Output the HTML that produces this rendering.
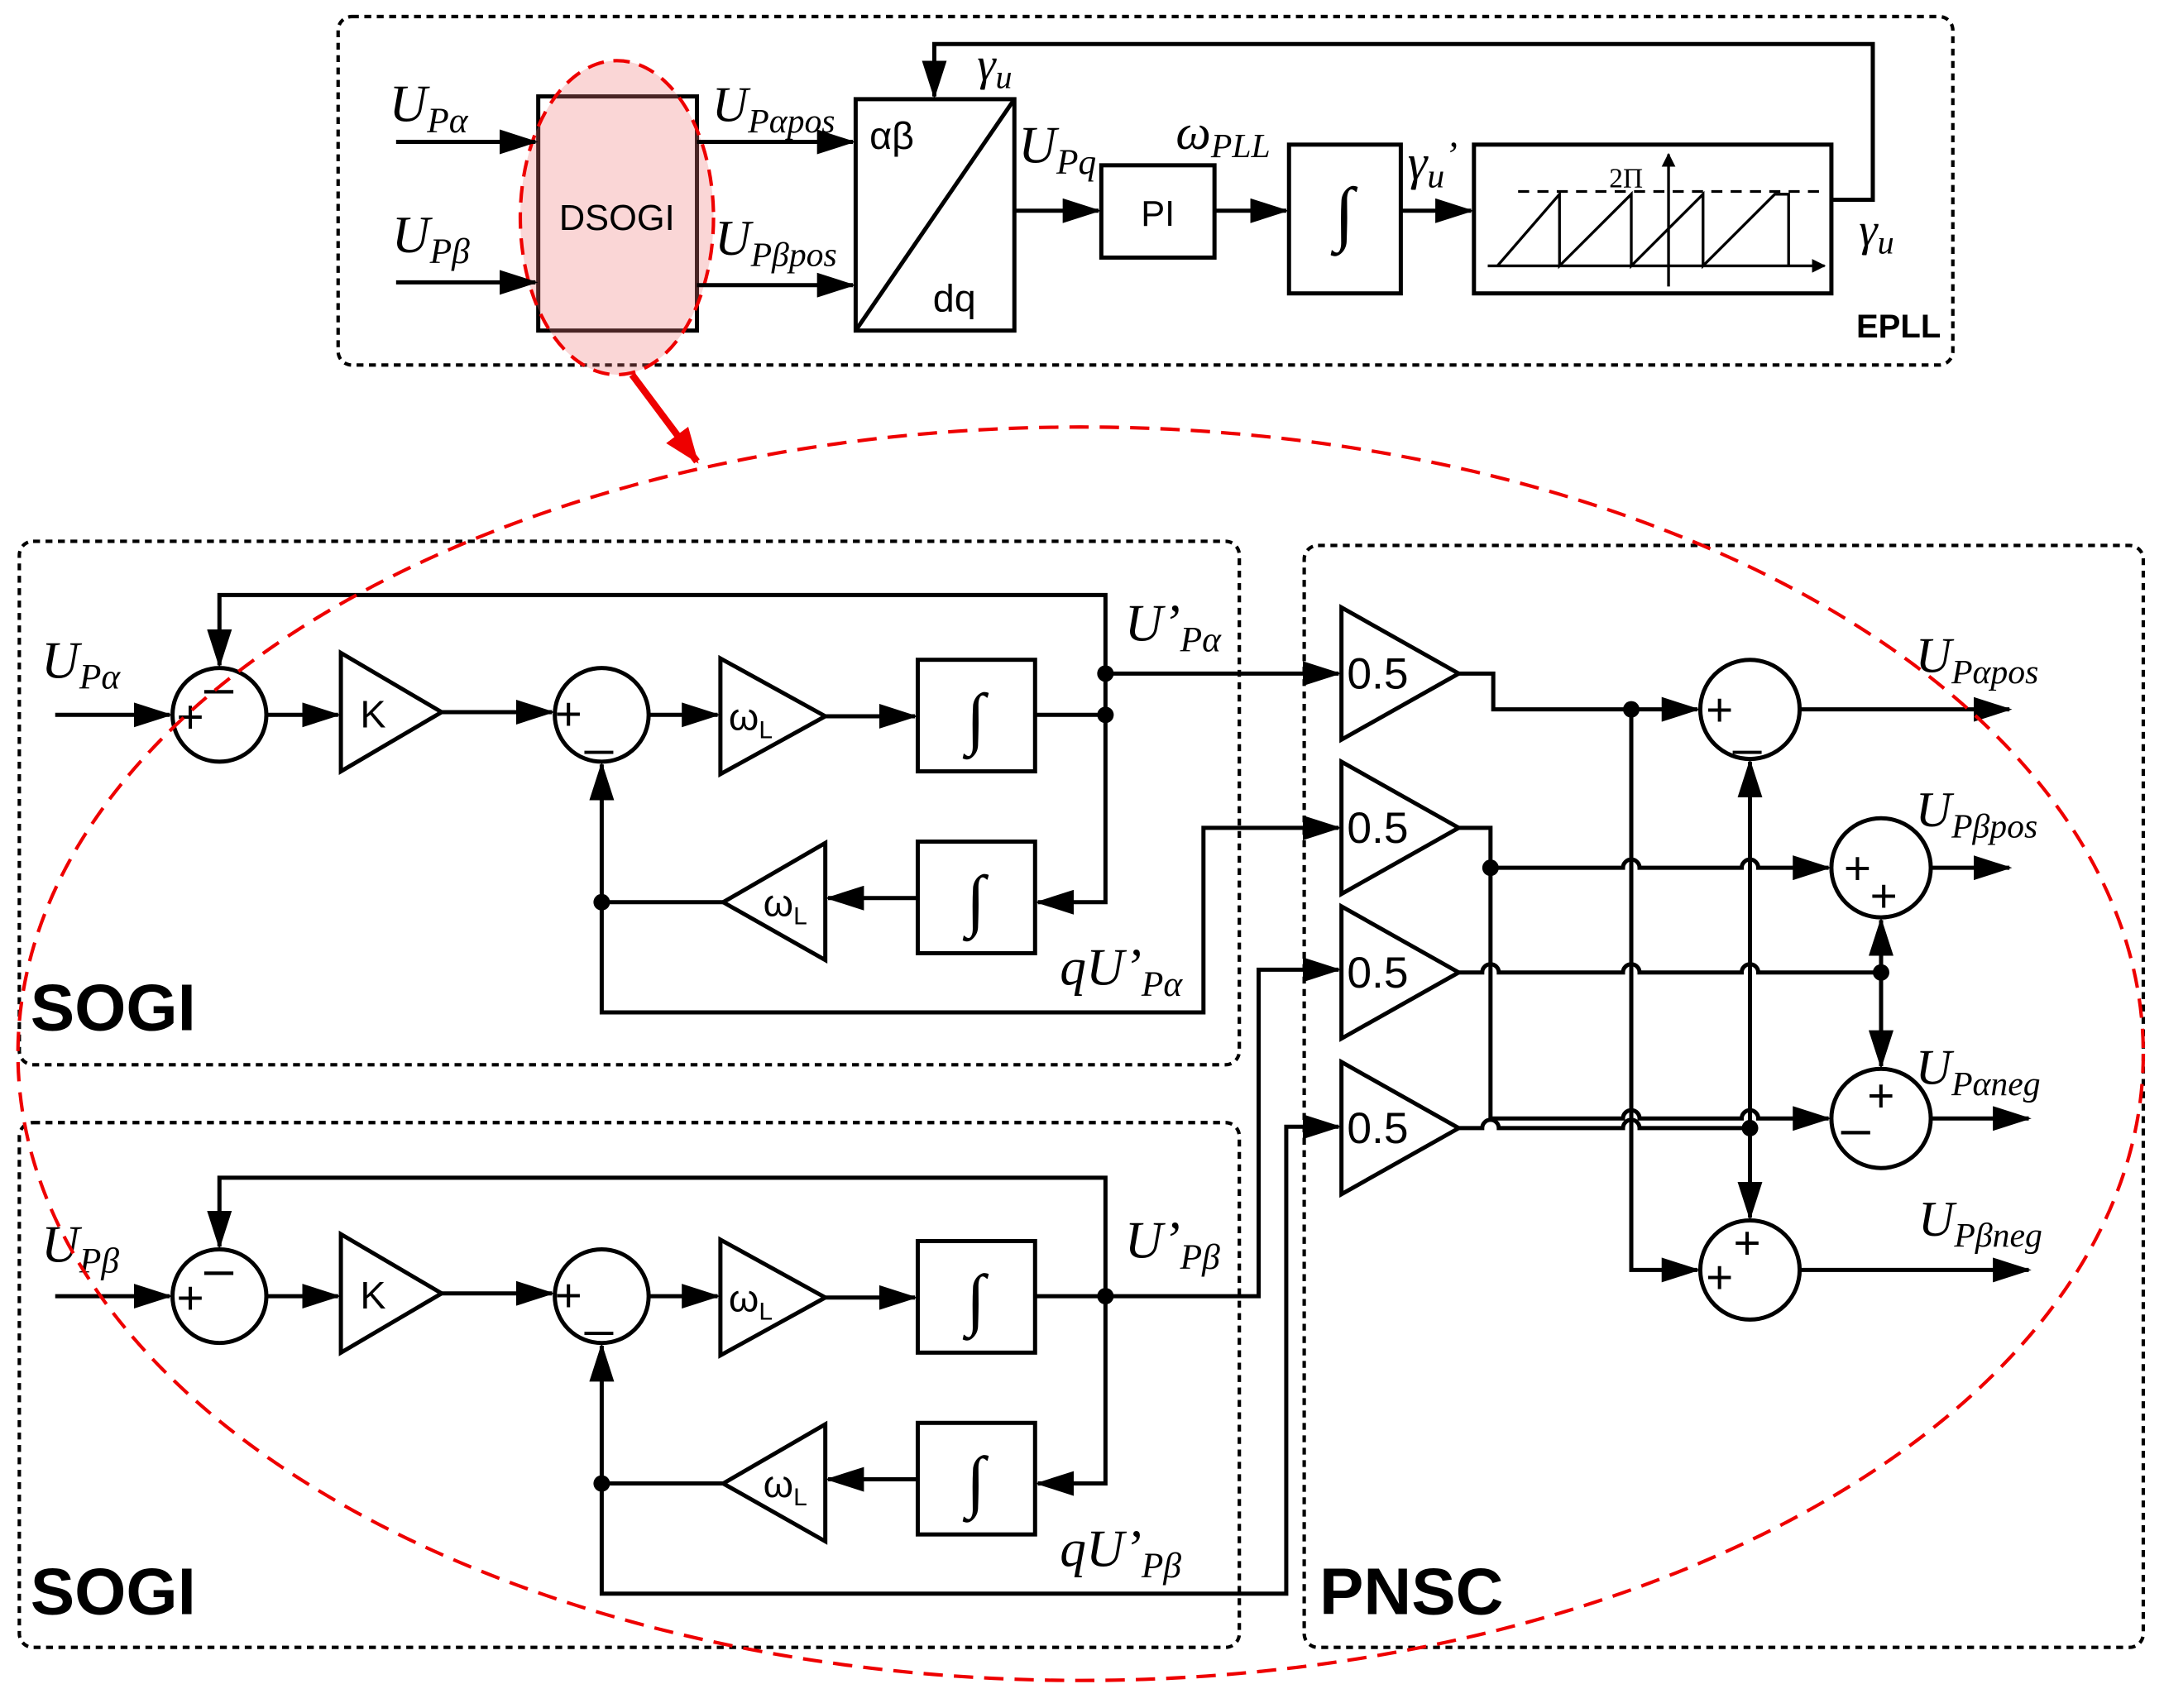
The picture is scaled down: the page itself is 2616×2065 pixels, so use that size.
<!DOCTYPE html>
<html><head><meta charset="utf-8">
<style>
html,body{margin:0;padding:0;background:#fff;}
svg{display:block;}
.l{stroke:#000;stroke-width:3;fill:none;}
.b{stroke:#000;stroke-width:3;fill:#fff;}
.d{stroke:#000;stroke-width:2.5;fill:none;stroke-dasharray:5 4;}
.it{font-family:"Liberation Serif",serif;font-style:italic;}
.sa{font-family:"Liberation Sans",sans-serif;}
</style></head><body>
<svg width="2616" height="2065" viewBox="0 0 1568 1240" preserveAspectRatio="none" xmlns="http://www.w3.org/2000/svg">
<defs>
<marker id="a" markerWidth="10" markerHeight="10" refX="9" refY="5" orient="auto" markerUnits="userSpaceOnUse" viewBox="0 0 10 10">
<path d="M0,0 L10,5 L0,10 z" fill="#000"/></marker>
<marker id="a2" markerWidth="28" markerHeight="18" refX="26" refY="9" orient="auto" markerUnits="userSpaceOnUse" viewBox="0 0 28 18">
<path d="M0,0 L28,9 L0,18 z" fill="#000"/></marker>
<marker id="ar" markerWidth="26" markerHeight="20" refX="24" refY="10" orient="auto" markerUnits="userSpaceOnUse" viewBox="0 0 26 20">
<path d="M0,0 L26,10 L0,20 z" fill="#e00"/></marker>
</defs>
<rect width="1568" height="1240" fill="#fff"/>

<!-- EPLL -->
<rect x="245" y="12" width="1170" height="253" rx="10" class="d"/>
<text x="1345" y="245" class="sa" font-size="24" font-weight="bold">EPLL</text>
<rect x="390" y="70" width="115" height="170" class="b"/>
<ellipse cx="447" cy="158" rx="70" ry="114" fill="rgba(240,120,120,0.3)" stroke="#e00" stroke-width="2.5" stroke-dasharray="12 7"/>
<text x="447" y="167" class="sa" font-size="26" text-anchor="middle">DSOGI</text>
<line x1="287" y1="103" x2="388" y2="103" class="l" marker-end="url(#a2)"/>
<line x1="287" y1="205" x2="388" y2="205" class="l" marker-end="url(#a2)"/>
<text x="282" y="88" class="it" font-size="38">U<tspan font-size="26" dy="8">Pα</tspan></text>
<text x="284" y="183" class="it" font-size="38">U<tspan font-size="26" dy="8">Pβ</tspan></text>
<line x1="505" y1="103" x2="618" y2="103" class="l" marker-end="url(#a2)"/>
<line x1="505" y1="207" x2="618" y2="207" class="l" marker-end="url(#a2)"/>
<text x="516" y="88" class="it" font-size="36">U<tspan font-size="25" dy="8">Pαpos</tspan></text>
<text x="518" y="185" class="it" font-size="36">U<tspan font-size="25" dy="8">Pβpos</tspan></text>
<rect x="620" y="72" width="115" height="168" class="b"/>
<line x1="620" y1="240" x2="735" y2="72" class="l"/>
<text x="630" y="108" class="sa" font-size="28">αβ</text>
<text x="676" y="226" class="sa" font-size="28">dq</text>
<line x1="735" y1="153" x2="796" y2="153" class="l" marker-end="url(#a2)"/>
<text x="738" y="118" class="it" font-size="38">U<tspan font-size="26" dy="8">Pq</tspan></text>
<rect x="798" y="120" width="82" height="67" class="b"/>
<text x="839" y="164" class="sa" font-size="26" text-anchor="middle">PI</text>
<line x1="880" y1="153" x2="932" y2="153" class="l" marker-end="url(#a2)"/>
<text x="852" y="108" class="it" font-size="36">ω<tspan font-size="25" dy="6">PLL</tspan></text>
<rect x="934" y="105" width="81" height="108" class="b"/>
<text x="974" y="172" class="it" font-size="52" text-anchor="middle">∫</text>
<line x1="1015" y1="153" x2="1066" y2="153" class="l" marker-end="url(#a2)"/>
<text x="1020" y="130" class="it" font-size="36">γ<tspan font-size="25" dy="6">u</tspan><tspan dy="-14" font-size="28">’</tspan></text>
<rect x="1068" y="105" width="259" height="108" class="b"/>
<line x1="1078" y1="193" x2="1322" y2="193" stroke="#000" stroke-width="2" marker-end="url(#a)"/>
<line x1="1209" y1="208" x2="1209" y2="112" stroke="#000" stroke-width="2" marker-end="url(#a)"/>
<line x1="1100" y1="139" x2="1318" y2="139" stroke="#000" stroke-width="2" stroke-dasharray="8 6"/>
<path d="M1085,193 L1130,141 L1130,193 L1182,141 L1182,193 L1234,141 L1234,193 L1286,141 L1296,141 L1296,193" stroke="#000" stroke-width="2" fill="none"/>
<text x="1166" y="136" font-size="20" font-family="Liberation Serif,serif">2Π</text>
<polyline points="1327,145 1357,145 1357,32 677,32 677,70" class="l" marker-end="url(#a2)"/>
<text x="708" y="58" class="it" font-size="34">γ<tspan font-size="24" dy="6">u</tspan></text>
<text x="1347" y="178" class="it" font-size="34">γ<tspan font-size="24" dy="6">u</tspan></text>

<line x1="458" y1="272" x2="505" y2="335" stroke="#e00" stroke-width="5" marker-end="url(#ar)"/>

<rect x="14" y="393" width="884" height="380" rx="10" class="d"/>
<rect x="14" y="815" width="884" height="381" rx="10" class="d"/>
<rect x="945" y="396" width="608" height="800" rx="10" class="d"/>
<text x="22" y="748" class="sa" font-size="48" font-weight="bold">SOGI</text>
<text x="22" y="1172" class="sa" font-size="48" font-weight="bold">SOGI</text>
<text x="956" y="1172" class="sa" font-size="48" font-weight="bold">PNSC</text>

<g id="sogi">
<line x1="40" y1="519" x2="123" y2="519" class="l" marker-end="url(#a2)"/>
<circle cx="159" cy="519" r="34" class="b"/>
<text x="128" y="532" class="sa" font-size="34">+</text>
<text x="148" y="512" class="sa" font-size="38">–</text>
<line x1="193" y1="519" x2="245" y2="519" class="l" marker-end="url(#a2)"/>
<polygon points="247,474 320,517 247,560" class="b"/>
<text x="261" y="528" class="sa" font-size="28">K</text>
<line x1="320" y1="517" x2="400" y2="517" class="l" marker-end="url(#a2)"/>
<circle cx="436" cy="519" r="34" class="b"/>
<text x="402" y="530" class="sa" font-size="34">+</text>
<text x="424" y="540" class="sa" font-size="36">_</text>
<line x1="470" y1="519" x2="520" y2="519" class="l" marker-end="url(#a2)"/>
<polygon points="522,478 598,520 522,562" class="b"/>
<text x="528" y="530" class="sa" font-size="28">ω<tspan font-size="18" dy="6">L</tspan></text>
<line x1="598" y1="520" x2="663" y2="520" class="l" marker-end="url(#a2)"/>
<rect x="665" y="479" width="85" height="81" class="b"/>
<text x="707" y="538" class="it" font-size="50" text-anchor="middle">∫</text>
<line x1="750" y1="519" x2="801" y2="519" class="l"/>
<polyline points="801,519 801,655 752,655" class="l" marker-end="url(#a2)"/>
<rect x="665" y="611" width="85" height="81" class="b"/>
<text x="707" y="670" class="it" font-size="50" text-anchor="middle">∫</text>
<line x1="665" y1="652" x2="600" y2="652" class="l" marker-end="url(#a2)"/>
<polygon points="598,612 598,697 524,655" class="b"/>
<text x="553" y="665" class="sa" font-size="28">ω<tspan font-size="18" dy="6">L</tspan></text>
<polyline points="524,655 436,655 436,555" class="l" marker-end="url(#a2)"/>
<circle cx="436" cy="655" r="6" fill="#000"/>
<circle cx="801" cy="519" r="6" fill="#000"/>
</g>
<use href="#sogi" y="422"/>
<polyline points="801,519 801,432 159,432 159,483" class="l" marker-end="url(#a2)"/>
<line x1="801" y1="489" x2="970" y2="489" class="l" marker-end="url(#a2)"/>
<circle cx="801" cy="489" r="6" fill="#000"/>
<polyline points="436,655 436,735 872,735 872,601 970,601" class="l" marker-end="url(#a2)"/>
<text x="30" y="492" class="it" font-size="38">U<tspan font-size="26" dy="8">Pα</tspan></text>
<text x="815" y="465" class="it" font-size="38">U’<tspan font-size="26" dy="8">Pα</tspan></text>
<text x="768" y="715" class="it" font-size="38">qU’<tspan font-size="26" dy="8">Pα</tspan></text>
<polyline points="801,941 801,855 159,855 159,905" class="l" marker-end="url(#a2)"/>
<polyline points="801,941 912,941 912,704 970,704" class="l" marker-end="url(#a2)"/>
<polyline points="436,1077 436,1157 932,1157 932,818 970,818" class="l" marker-end="url(#a2)"/>
<text x="30" y="916" class="it" font-size="38">U<tspan font-size="26" dy="8">Pβ</tspan></text>
<text x="815" y="913" class="it" font-size="38">U’<tspan font-size="26" dy="8">Pβ</tspan></text>
<text x="768" y="1137" class="it" font-size="38">qU’<tspan font-size="26" dy="8">Pβ</tspan></text>

<g class="sa" font-size="32">
<polygon points="972,441 1057,489 972,537" class="b"/><text x="976" y="500">0.5</text>
<polygon points="972,553 1057,601 972,649" class="b"/><text x="976" y="612">0.5</text>
<polygon points="972,658 1057,706 972,754" class="b"/><text x="976" y="717">0.5</text>
<polygon points="972,771 1057,819 972,867" class="b"/><text x="976" y="830">0.5</text>
</g>
<polyline points="1057,489 1082,489 1082,515 1230,515" class="l" marker-end="url(#a2)"/>
<polyline points="1182,515 1182,922 1230,922" class="l" marker-end="url(#a2)"/>
<circle cx="1182" cy="515" r="6" fill="#000"/>
<path d="M1057,601 L1080,601 L1080,630 L1176,630 A6,6 0 0 1 1188,630 L1262,630 A6,6 0 0 1 1274,630 L1325,630" class="l" marker-end="url(#a2)"/>
<circle cx="1080" cy="630" r="6" fill="#000"/>
<path d="M1080,630 L1080,812 L1176,812 A6,6 0 0 1 1188,812 L1262,812 A6,6 0 0 1 1274,812 L1325,812" class="l" marker-end="url(#a2)"/>
<path d="M1057,706 L1074,706 A6,6 0 0 1 1086,706 L1176,706 A6,6 0 0 1 1188,706 L1262,706 A6,6 0 0 1 1274,706 L1363,706" class="l"/>
<circle cx="1363" cy="706" r="6" fill="#000"/>
<line x1="1363" y1="706" x2="1363" y2="668" class="l" marker-end="url(#a2)"/>
<line x1="1363" y1="706" x2="1363" y2="774" class="l" marker-end="url(#a2)"/>
<path d="M1057,819 L1074,819 A6,6 0 0 1 1086,819 L1176,819 A6,6 0 0 1 1188,819 L1268,819" class="l"/>
<circle cx="1268" cy="819" r="6" fill="#000"/>
<line x1="1268" y1="819" x2="1268" y2="553" class="l" marker-end="url(#a2)"/>
<line x1="1268" y1="819" x2="1268" y2="884" class="l" marker-end="url(#a2)"/>

<circle cx="1268" cy="515" r="36" class="b"/>
<text x="1236" y="527" class="sa" font-size="34">+</text><text x="1256" y="540" class="sa" font-size="36">_</text>
<circle cx="1363" cy="630" r="36" class="b"/>
<text x="1336" y="642" class="sa" font-size="34">+</text><text x="1355" y="662" class="sa" font-size="34">+</text>
<circle cx="1363" cy="812" r="36" class="b"/>
<text x="1334" y="832" class="sa" font-size="38">–</text><text x="1353" y="807" class="sa" font-size="34">+</text>
<circle cx="1268" cy="922" r="36" class="b"/>
<text x="1236" y="939" class="sa" font-size="34">+</text><text x="1256" y="914" class="sa" font-size="34">+</text>

<line x1="1304" y1="515" x2="1456" y2="515" class="l" marker-end="url(#a2)"/>
<line x1="1399" y1="630" x2="1456" y2="630" class="l" marker-end="url(#a2)"/>
<line x1="1399" y1="812" x2="1470" y2="812" class="l" marker-end="url(#a2)"/>
<line x1="1304" y1="922" x2="1470" y2="922" class="l" marker-end="url(#a2)"/>
<text x="1388" y="488" class="it" font-size="36">U<tspan font-size="25" dy="8">Pαpos</tspan></text>
<text x="1388" y="600" class="it" font-size="36">U<tspan font-size="25" dy="8">Pβpos</tspan></text>
<text x="1388" y="787" class="it" font-size="36">U<tspan font-size="25" dy="8">Pαneg</tspan></text>
<text x="1390" y="897" class="it" font-size="36">U<tspan font-size="25" dy="8">Pβneg</tspan></text>

<ellipse cx="783" cy="765" rx="770" ry="455" fill="none" stroke="#e00" stroke-width="2.5" stroke-dasharray="14 8"/>
</svg>
</body></html>
